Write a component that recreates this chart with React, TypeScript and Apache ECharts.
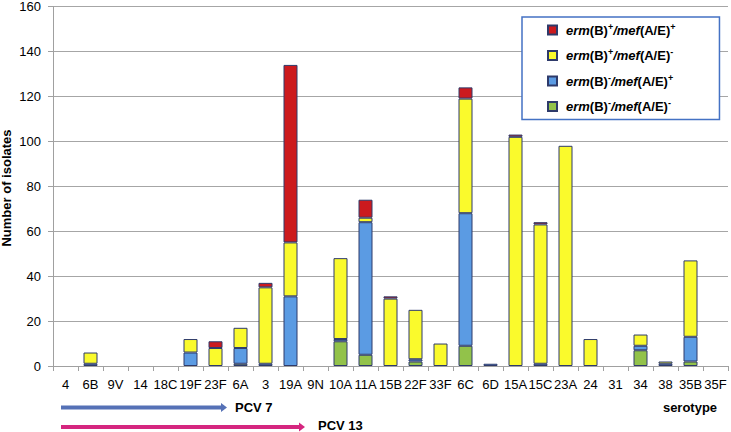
import React, { useEffect, useRef } from "react";
import * as echarts from "echarts";

const categories = ["4", "6B", "9V", "14", "18C", "19F", "23F", "6A", "3", "19A", "9N", "10A", "11A", "15B", "22F", "33F", "6C", "6D", "15A", "15C", "23A", "24", "31", "34", "38", "35B", "35F"];
// erm(B)-/mef(A/E)-
const negNeg = [0, 0, 0, 0, 0, 0, 0, 1, 0, 0, 0, 11, 5, 0, 2, 0, 9, 0, 0, 0, 0, 0, 0, 7, 0, 2, 0];
// erm(B)-/mef(A/E)+
const negPos = [0, 1, 0, 0, 0, 6, 0, 7, 1, 31, 0, 1, 59, 0, 1, 0, 59, 1, 0, 1, 0, 0, 0, 2, 1, 11, 0];
// erm(B)+/mef(A/E)-
const posNeg = [0, 5, 0, 0, 0, 6, 8, 9, 34, 24, 0, 36, 2, 30, 22, 10, 51, 0, 102, 62, 98, 12, 0, 5, 1, 34, 0];
// erm(B)+/mef(A/E)+
const posPos = [0, 0, 0, 0, 0, 0, 3, 0, 2, 79, 0, 0, 8, 1, 0, 0, 5, 0, 1, 1, 0, 0, 0, 0, 0, 0, 0];

const yTicks = { min: 0, max: 160, interval: 20 };

const seriesDefs = [
  { name: "erm(B)-/mef(A/E)-", data: negNeg, color: "#92C24A", rich: "{i|erm}{n|(B)}{s|-}{i|/mef}{n|(A/E)}{s|-}" },
  { name: "erm(B)-/mef(A/E)+", data: negPos, color: "#5B9BE3", rich: "{i|erm}{n|(B)}{s|-}{i|/mef}{n|(A/E)}{s|+}" },
  { name: "erm(B)+/mef(A/E)-", data: posNeg, color: "#FAFA2C", rich: "{i|erm}{n|(B)}{s|+}{i|/mef}{n|(A/E)}{s|-}" },
  { name: "erm(B)+/mef(A/E)+", data: posPos, color: "#CC1A1E", rich: "{i|erm}{n|(B)}{s|+}{i|/mef}{n|(A/E)}{s|+}" },
];

const FONT = "Liberation Sans";

export default function App() {
  const ref = useRef<HTMLDivElement>(null);
  useEffect(() => {
    if (!ref.current) return;
    const chart = echarts.init(ref.current, undefined, { renderer: "svg" });
    const richMap: Record<string, string> = {};
    seriesDefs.forEach((s) => (richMap[s.name] = s.rich));
    const pcv7Y = 407.5;
    const pcv13Y = 427;
    chart.setOption({
      animation: false,
      backgroundColor: "#fff",
      grid: { left: 53, right: 3, top: 5, bottom: 66, containLabel: false },
      legend: {
        orient: "vertical",
        left: 522,
        top: 17,
        data: ["erm(B)+/mef(A/E)+", "erm(B)+/mef(A/E)-", "erm(B)-/mef(A/E)+", "erm(B)-/mef(A/E)-"],
        icon: "rect",
        itemWidth: 9,
        itemHeight: 9,
        itemGap: 9.5,
        padding: [5, 44, 5, 25],
        backgroundColor: "#fff",
        borderColor: "#4472C4",
        borderWidth: 1.5,
        borderRadius: 0,
        formatter: (name: string) => richMap[name] || name,
        textStyle: {
          fontFamily: FONT,
          color: "#000",
          padding: [0, 0, 0, 4],
          rich: {
            i: { fontStyle: "italic", fontWeight: "bold", fontSize: 13, fontFamily: FONT, color: "#000", lineHeight: 16 },
            n: { fontWeight: "bold", fontSize: 13, fontFamily: FONT, color: "#000", lineHeight: 16 },
            s: { fontWeight: "bold", fontSize: 9, fontFamily: FONT, color: "#000", padding: [0, 0, 7, 0], lineHeight: 16 },
          },
        },
      },
      xAxis: {
        type: "category",
        data: categories,
        axisLine: { lineStyle: { color: "#A0A0A0", width: 1 } },
        axisTick: { show: true, length: 5, lineStyle: { color: "#A0A0A0" } },
        axisLabel: { interval: 0, margin: 12, fontSize: 13, fontFamily: FONT, color: "#000" },
      },
      yAxis: {
        type: "value",
        min: yTicks.min,
        max: yTicks.max,
        interval: yTicks.interval,
        axisLine: { show: true, lineStyle: { color: "#A0A0A0", width: 1 } },
        axisTick: { show: true, length: 5, lineStyle: { color: "#A0A0A0" } },
        axisLabel: { margin: 12, fontSize: 13, fontFamily: FONT, color: "#000" },
        splitLine: { show: true, lineStyle: { color: "#A6A6A6", width: 1 } },
      },
      series: seriesDefs.map((s) => ({
        name: s.name,
        type: "bar",
        stack: "total",
        barWidth: 14,
        data: s.data.map((v) => (v === 0 ? "-" : v)),
        itemStyle: { color: s.color, borderColor: "#2E3A6A", borderWidth: 1 },
        emphasis: { disabled: true },
      })),
      graphic: [
        {
          type: "text",
          x: 6,
          y: 188,
          rotation: Math.PI / 2,
          style: { text: "Number of isolates", font: `bold 13px "${FONT}"`, fill: "#000", textAlign: "center", textVerticalAlign: "middle" },
        },
        {
          type: "text",
          x: 690,
          y: 407,
          style: { text: "serotype", font: `bold 13px "${FONT}"`, fill: "#000", textAlign: "center", textVerticalAlign: "middle" },
        },
        { type: "rect", shape: { x: 61, y: pcv7Y - 2, width: 161, height: 4 }, style: { fill: "#5571B6" } },
        { type: "polygon", shape: { points: [[221, pcv7Y - 4.5], [227, pcv7Y], [221, pcv7Y + 4.5]] }, style: { fill: "#5571B6" } },
        { type: "text", x: 235, y: pcv7Y, style: { text: "PCV 7", font: `bold 13px "${FONT}"`, fill: "#000", textAlign: "left", textVerticalAlign: "middle" } },
        { type: "rect", shape: { x: 61, y: pcv13Y - 2, width: 239, height: 4 }, style: { fill: "#D5267F" } },
        { type: "polygon", shape: { points: [[299, pcv13Y - 4.5], [305, pcv13Y], [299, pcv13Y + 4.5]] }, style: { fill: "#D5267F" } },
        { type: "text", x: 318, y: pcv13Y - 2, style: { text: "PCV 13", font: `bold 13px "${FONT}"`, fill: "#000", textAlign: "left", textVerticalAlign: "middle" } },
      ],
    });
    return () => chart.dispose();
  }, []);
  return <div ref={ref} style={{ width: 731, height: 432, position: "fixed", left: 0, top: 0 }} />;
}
